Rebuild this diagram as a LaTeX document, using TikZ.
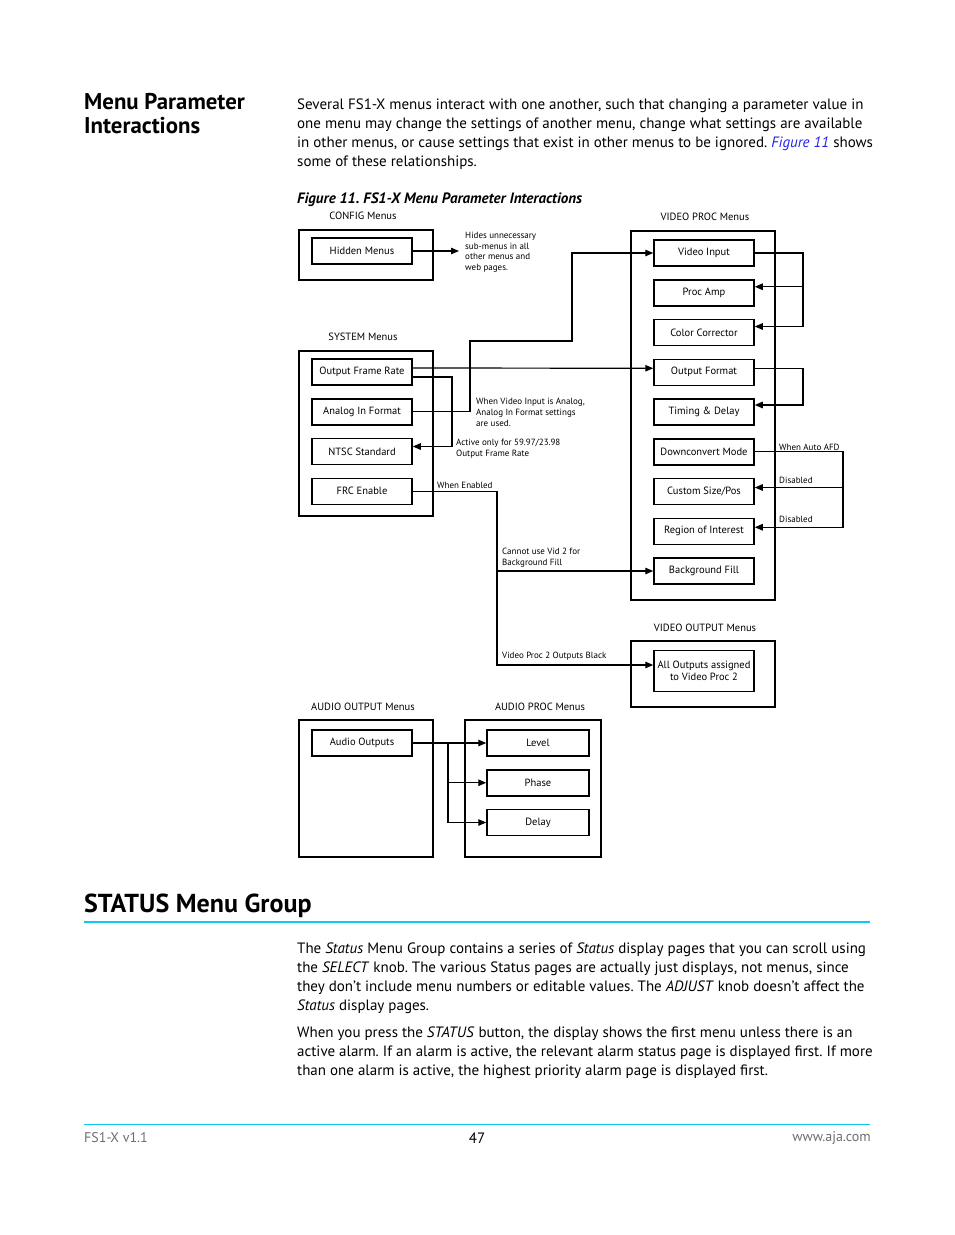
\documentclass[tikz,border=0pt]{standalone}
\usepackage{fontspec}
\setmainfont{PT Sans}
\usepackage{xcolor}
\usepackage{tikz}
\usetikzlibrary{arrows.meta, positioning}
\definecolor{ajacyan}{HTML}{10C8F5}
\definecolor{linkblue}{HTML}{2020F0}
\definecolor{footgray}{HTML}{6D6E71}
\frenchspacing
\tikzstyle{group} = [rectangle, draw=black, line width=1.6pt, anchor=north west, inner sep=0pt]
\tikzstyle{grouplabel} = [font=\fontsize{10.5}{12}\selectfont, inner sep=0pt]
\tikzstyle{item} = [rectangle, draw=black, line width=1.5pt, minimum width=100pt, minimum height=26pt, inner sep=1pt, font=\fontsize{10.5}{12}\selectfont]
\tikzstyle{note} = [font=\fontsize{9}{10.7}\selectfont, align=left, anchor=north west, inner sep=0pt]
\tikzstyle{body} = [font=\fontsize{15}{19}\selectfont, align=left, anchor=north west, inner sep=0pt]
\tikzstyle{arrow} = [line width=1.2pt, -{Triangle[length=8pt, width=6.5pt]}]
\tikzstyle{cyanrule} = [draw=ajacyan, line width=1.1pt]

\begin{document}
\begin{tikzpicture}[x=1pt, y=-1pt, node distance=39.75pt]
        \useasboundingbox (0,0) rectangle (954,1235);

        % page text above the figure
        \node (headA) [font=\fontsize{22.8}{24}\bfseries\selectfont, align=left, anchor=north west, inner sep=0pt] at (84,93.5) {Menu Parameter\\Interactions};
        \node (intro) [body] at (297,99) {Several FS1-X menus interact with one another, such that changing a parameter value in\\one menu may change the settings of another menu, change what settings are available\\in other menus, or cause settings that exist in other menus to be ignored. \textcolor{linkblue}{\textit{Figure 11}} shows\\some of these relationships.};
        \node (figcap) [font=\fontsize{15}{17}\bfseries\itshape\selectfont, anchor=west, inner sep=0pt] at (297,200) {Figure 11. FS1-X Menu Parameter Interactions};

        % CONFIG menus
        \node (cfg) [group, minimum width=134pt, minimum height=50pt] at (298,229) {};
        \node (cfglbl) [grouplabel] at (363,216) {CONFIG Menus};
        \node (hidden) [item] at (362,251) {Hidden Menus};
        \node (hidenote) [note] at (465,232) {Hides unnecessary\\sub-menus in all\\other menus and\\web pages.};
        \coordinate (hidetip) at (459,251);

        % SYSTEM menus
        \node (sys) [group, minimum width=134pt, minimum height=165pt] at (298,350) {};
        \node (syslbl) [grouplabel] at (363,337) {SYSTEM Menus};
        \node (ofr) [item] at (362,372) {Output Frame Rate};
        \node (aif) [item, below of=ofr] {Analog In Format};
        \node (ntsc) [item, below of=aif] {NTSC Standard};
        \node (frc) [item, below of=ntsc] {FRC Enable};

        % VIDEO PROC menus
        \node (vproc) [group, minimum width=144pt, minimum height=369pt] at (630,230) {};
        \node (vproclbl) [grouplabel] at (705,217) {VIDEO PROC Menus};
        \node (vin) [item] at (704,253) {Video Input};
        \node (pamp) [item, below of=vin] {Proc Amp};
        \node (cc) [item, below of=pamp] {Color Corrector};
        \node (ofmt) [item, below of=cc] {Output Format};
        \node (timing) [item, below of=ofmt] {Timing \& Delay};
        \node (dcm) [item, below of=timing] {Downconvert Mode};
        \node (csp) [item, below of=dcm] {Custom Size/Pos};
        \node (roi) [item, below of=csp] {Region of Interest};
        \node (bgfill) [item, below of=roi] {Background Fill};

        % VIDEO OUTPUT menus
        \node (vout) [group, minimum width=144pt, minimum height=66pt] at (630,640) {};
        \node (voutlbl) [grouplabel] at (705,628) {VIDEO OUTPUT Menus};
        \node (allout) [item, minimum height=41pt, align=center] at (704,671) {All Outputs assigned\\to Video Proc 2};

        % AUDIO OUTPUT and AUDIO PROC menus
        \node (aout) [group, minimum width=134pt, minimum height=137pt] at (298,719) {};
        \node (aoutlbl) [grouplabel] at (363,707) {AUDIO OUTPUT Menus};
        \node (aouts) [item] at (362,743) {Audio Outputs};
        \node (aproc) [group, minimum width=136pt, minimum height=137pt] at (464,719) {};
        \node (aproclbl) [grouplabel] at (540,707) {AUDIO PROC Menus};
        \node (level) [item, minimum width=102pt] at (538,743) {Level};
        \node (phase) [item, minimum width=102pt, below of=level] {Phase};
        \node (delay) [item, minimum width=102pt, below of=phase] {Delay};

        % bends of the connectors
        \coordinate (busA) at (803,0);
        \coordinate (busB) at (843,0);
        \coordinate (busS) at (452,0);
        \coordinate (busF) at (497,0);
        \coordinate (busAud) at (448,0);
        \coordinate (riseA) at (470,341);
        \coordinate (riseB) at (572,341);

        \draw [arrow] (hidden.east) -- (hidetip);
        \draw [arrow] (vin.east) -| ([yshift=6pt]cc.east -| busA) -- ([yshift=6pt]cc.east);
        \draw [arrow] ([yshift=6pt]pamp.east -| busA) -- ([yshift=6pt]pamp.east);
        \draw [arrow] ([yshift=4pt]ofmt.east) -| ([yshift=7pt]timing.east -| busA) -- ([yshift=7pt]timing.east);
        \draw [arrow] (dcm.east) -| ([yshift=4pt]roi.east -| busB) -- ([yshift=4pt]roi.east);
        \draw [arrow] ([yshift=4pt]csp.east -| busB) -- ([yshift=4pt]csp.east);
        \draw [arrow] ([yshift=4pt]ofr.east) -- ([yshift=4pt]ofmt.west);
        \draw [arrow] ([yshift=-5pt]ofr.east) -| ([yshift=5pt]ntsc.east -| busS) -- ([yshift=5pt]ntsc.east);
        \draw [arrow] (aif.east) -| (riseA) -- (riseB) |- (vin.west);
        \draw [arrow] (frc.east) -| ([yshift=6pt]allout.west -| busF) -- ([yshift=6pt]allout.west);
        \draw [arrow] (bgfill.west -| busF) -- (bgfill.west);
        \draw [arrow] (aouts.east) -- (level.west);
        \draw [arrow] (aouts.east -| busAud) |- (delay.west);
        \draw [arrow] (phase.west -| busAud) -- (phase.west);

        % connector labels
        \node (afdlbl) [note] at (779,444) {When Auto AFD};
        \node (dis1) [note] at (779,477) {Disabled};
        \node (dis2) [note] at (779,516) {Disabled};
        \node (analognote) [note] at (476,398) {When Video Input is Analog,\\Analog In Format settings\\are used.};
        \node (ntscnote) [note] at (456,439) {Active only for 59.97/23.98\\Output Frame Rate};
        \node (frcnote) [note] at (437,482) {When Enabled};
        \node (vidnote) [note] at (502,548) {Cannot use Vid 2 for\\Background Fill};
        \node (blknote) [note] at (502,652) {Video Proc 2 Outputs Black};

        % STATUS section
        \node (statushd) [font=\fontsize{26}{28}\bfseries\selectfont, anchor=west, inner sep=0pt] at (84,906) {STATUS Menu Group};
        \draw [cyanrule] (84,922) -- (870,922);
        \node (status) [body] at (297,943) {The \textit{Status} Menu Group contains a series of \textit{Status} display pages that you can scroll using\\the \textit{SELECT} knob. The various Status pages are actually just displays, not menus, since\\they don’t include menu numbers or editable values. The \textit{ADJUST} knob doesn’t affect the\\\textit{Status} display pages.};
        \node (alarm) [body] at (297,1027) {When you press the \textit{STATUS} button, the display shows the first menu unless there is an\\active alarm. If an alarm is active, the relevant alarm status page is displayed first. If more\\than one alarm is active, the highest priority alarm page is displayed first.};

        % footer
        \draw [cyanrule] (84,1124.5) -- (870,1124.5);
        \node (version) [font=\fontsize{14}{16}\selectfont, text=footgray, anchor=west, inner sep=0pt] at (84,1138) {FS1-X v1.1};
        \node (pageno) [font=\fontsize{15}{16}\selectfont, inner sep=0pt] at (477,1138) {47};
        \node (website) [font=\fontsize{14}{16}\selectfont, text=footgray, anchor=east, inner sep=0pt] at (871,1138) {www.aja.com};
    \end{tikzpicture}
\end{document}
